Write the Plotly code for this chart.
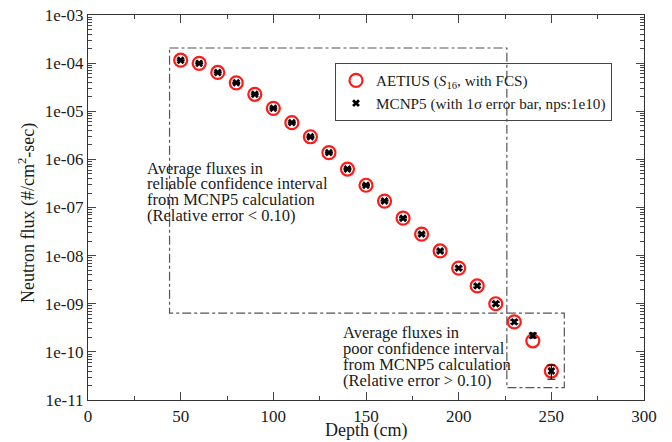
import plotly.graph_objects as go

depth = [50, 60, 70, 80, 90, 100, 110, 120, 130, 140, 150, 160, 170, 180, 190, 200, 210, 220, 230, 240, 250]
aetius = [1.15e-4, 9.9e-5, 6.4e-5, 3.9e-5, 2.25e-5, 1.15e-5, 5.8e-6, 2.95e-6, 1.38e-6, 6.3e-7, 2.9e-7,
          1.36e-7, 6.0e-8, 2.8e-8, 1.25e-8, 5.5e-9, 2.35e-9, 1.0e-9, 4.2e-10, 1.7e-10, 4.0e-11]
mcnp = [1.15e-4, 9.9e-5, 6.4e-5, 3.9e-5, 2.25e-5, 1.15e-5, 5.8e-6, 2.95e-6, 1.38e-6, 6.3e-7, 2.9e-7,
        1.36e-7, 6.0e-8, 2.8e-8, 1.25e-8, 5.5e-9, 2.35e-9, 1.0e-9, 4.2e-10, 2.2e-10, 4.0e-11]
mcnp_err = [2e-6, 2e-6, 1.5e-6, 9e-7, 5e-7, 3e-7, 1.5e-7, 8e-8, 4e-8, 2e-8, 9e-9,
            5e-9, 2.5e-9, 1.2e-9, 6e-10, 3e-10, 1.3e-10, 7e-11, 3.5e-11, 2.5e-11, 1.3e-11]

y_tickvals = [1e-11, 1e-10, 1e-9, 1e-8, 1e-7, 1e-6, 1e-5, 1e-4, 1e-3]
y_ticktext = ["1e-11", "1e-10", "1e-09", "1e-08", "1e-07", "1e-06", "1e-05", "1e-04", "1e-03"]
x_tickvals = [0, 50, 100, 150, 200, 250, 300]

# annotation boxes (depth, flux corners)
box1_x = [44, 226, 226, 44, 44]
box1_y = [2.06e-4, 2.06e-4, 6.4e-10, 6.4e-10, 2.06e-4]
box2_x = [226, 257, 257, 226, 226]
box2_y = [6.4e-10, 6.4e-10, 1.8e-11, 1.8e-11, 6.4e-10]

note_reliable = ["Average fluxes in", "reliable confidence interval", "from MCNP5 calculation",
                 "(Relative error &lt; 0.10)"]
note_poor = ["Average fluxes in", "poor confidence interval", "from MCNP5 calculation",
             "(Relative error &gt; 0.10)"]
x_title = "Depth (cm)"
y_title = "Neutron flux (#/cm<sup>2</sup>-sec)"

FONT = "Liberation Serif"
TXT = "#1a1a1a"

fig = go.Figure()
for bx, by in [(box1_x, box1_y), (box2_x, box2_y)]:
    fig.add_trace(go.Scatter(x=bx, y=by, mode="lines", showlegend=False, hoverinfo="skip",
                             line=dict(color="#555555", width=1.2, dash="dashdot")))

fig.add_trace(go.Scatter(
    x=depth, y=aetius, mode="markers", name="AETIUS (<i>S</i><sub>16</sub>, with FCS)",
    marker=dict(symbol="circle-open", size=13, color="#ff1a1a", line=dict(width=2.2, color="#ff1a1a"))))
fig.add_trace(go.Scatter(
    x=depth, y=mcnp, mode="markers", name="MCNP5 (with 1σ error bar, nps:1e10)",
    marker=dict(symbol="x", size=7, color="black"),
    error_y=dict(type="data", array=mcnp_err, color="black", thickness=1.2, width=4)))

# plot area in pixels: x 88..644, y 15..400
def py(ypx):
    return (400 - ypx) / 385.0

def px(xpx):
    return (xpx - 88) / 556.0

for i, line in enumerate(note_reliable):
    fig.add_annotation(xref="paper", yref="paper", x=px(145), y=py(168 + 15.8 * i),
                       xanchor="left", yanchor="middle", align="left", showarrow=False,
                       text=line, font=dict(family=FONT, size=16.5, color=TXT))
for i, line in enumerate(note_poor):
    fig.add_annotation(xref="paper", yref="paper", x=px(341), y=py(332 + 16 * i),
                       xanchor="left", yanchor="middle", align="left", showarrow=False,
                       text=line, font=dict(family=FONT, size=16.5, color=TXT))

# axis titles
fig.add_annotation(xref="paper", yref="paper", x=0.5, y=py(431), xanchor="center", yanchor="middle",
                   showarrow=False, text=x_title, font=dict(family=FONT, size=18, color=TXT))
fig.add_annotation(xref="paper", yref="paper", x=px(27), y=py(213), xanchor="center", yanchor="middle",
                   showarrow=False, textangle=-90, text=y_title, font=dict(family=FONT, size=18, color=TXT))

fig.update_layout(
    width=672, height=442,
    margin=dict(l=88, r=28, t=15, b=42),
    paper_bgcolor="white", plot_bgcolor="white",
    font=dict(family=FONT, size=17, color=TXT),
    showlegend=True,
    legend=dict(x=px(335), y=py(63), xanchor="left", yanchor="top",
                bgcolor="rgba(0,0,0,0)", bordercolor="#444444", borderwidth=1,
                font=dict(family=FONT, size=15.2, color=TXT), tracegroupgap=0, itemwidth=30),
)
fig.update_xaxes(range=[0, 300], tickvals=x_tickvals, ticks="inside", ticklen=8,
                 showline=True, linecolor="#333333", linewidth=1.2, mirror="allticks",
                 showgrid=False, zeroline=False, automargin=False, ticklabeloverflow="allow",
                 minor=dict(ticks="inside", ticklen=4, dtick=25, showgrid=False),
                 tickfont=dict(family=FONT, size=17, color=TXT))
fig.update_yaxes(type="log", range=[-11, -3], tickvals=y_tickvals, ticktext=y_ticktext,
                 ticks="inside", ticklen=8,
                 showline=True, linecolor="#333333", linewidth=1.2, mirror="allticks",
                 showgrid=False, zeroline=False, automargin=False, ticklabeloverflow="allow",
                 minor=dict(ticks="inside", ticklen=4, dtick="D1", showgrid=False),
                 tickfont=dict(family=FONT, size=17, color=TXT))

fig.write_html("out.html", config={"displayModeBar": False},
               post_script="document.body.style.margin='0';document.body.style.overflow='hidden';")
